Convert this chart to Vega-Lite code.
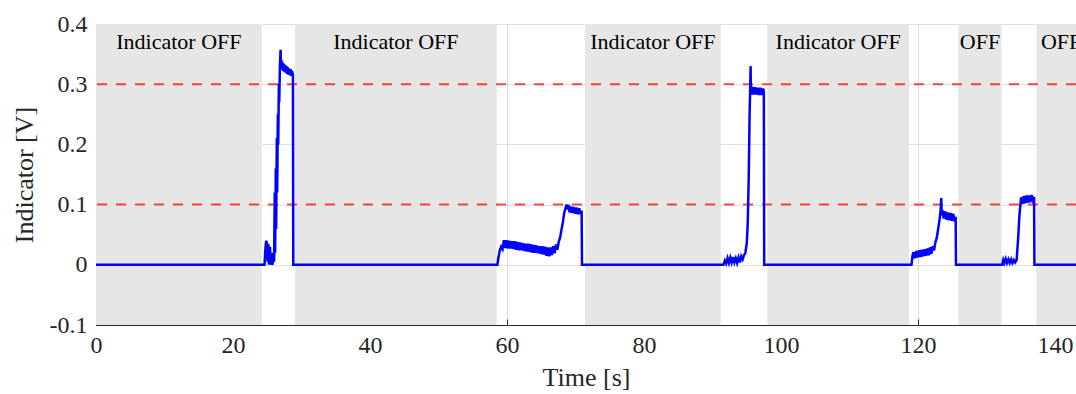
{
  "$schema": "https://vega.github.io/schema/vega-lite/v6.json",
  "width": 980,
  "height": 301,
  "autosize": {"type": "none"},
  "padding": {"left": 96, "top": 24, "right": 0, "bottom": 69},
  "background": "white",
  "config": {
    "view": {"stroke": null},
    "font": "Liberation Serif, serif",
    "axis": {
      "labelFont": "Liberation Serif, serif",
      "titleFont": "Liberation Serif, serif",
      "labelColor": "#262626",
      "titleColor": "#262626",
      "domainColor": "#262626",
      "tickColor": "#262626",
      "gridColor": "#262626",
      "gridOpacity": 0.15,
      "labelFontSize": 24,
      "titleFontSize": 26,
      "titleFontWeight": "normal",
      "tickSize": -6,
      "labelFlush": false,
      "zindex": 1
    }
  },
  "datasets": {
    "regions": [
      {"start": 0, "end": 24.2, "label": "Indicator OFF"},
      {"start": 29.05, "end": 58.5, "label": "Indicator OFF"},
      {"start": 71.4, "end": 91.2, "label": "Indicator OFF"},
      {"start": 98.0, "end": 118.7, "label": "Indicator OFF"},
      {"start": 125.9, "end": 132.2, "label": "OFF"},
      {"start": 137.3, "end": 144.5, "label": "OFF"}
    ],
    "thresholds": [{"level": 0.1}, {"level": 0.3}],
    "signal": [
      {"t":0,"v":0},{"t":24.6,"v":0},{"t":24.75,"v":0.03},{"t":24.85,"v":0.04},{"t":24.95,"v":0.035},{"t":25.05,"v":0.005},{"t":25.15,"v":0.035},{"t":25.25,"v":0.0},{"t":25.4,"v":0.03},{"t":25.5,"v":0.0},{"t":25.65,"v":0.02},{"t":25.75,"v":0.0},{"t":25.9,"v":0.01},{"t":26.0,"v":0.005},{"t":26.1,"v":0.12},{"t":26.15,"v":0.02},{"t":26.25,"v":0.16},{"t":26.3,"v":0.06},{"t":26.4,"v":0.21},{"t":26.45,"v":0.12},{"t":26.55,"v":0.25},{"t":26.6,"v":0.2},{"t":26.7,"v":0.3},{"t":26.75,"v":0.27},{"t":26.85,"v":0.33},{"t":26.95,"v":0.357},{"t":27.0,"v":0.33},{"t":27.05,"v":0.34},{"t":27.1,"v":0.325},{"t":27.2,"v":0.337},{"t":27.3,"v":0.322},{"t":27.4,"v":0.334},{"t":27.5,"v":0.321},{"t":27.6,"v":0.332},{"t":27.7,"v":0.319},{"t":27.8,"v":0.33},{"t":27.9,"v":0.317},{"t":28.0,"v":0.328},{"t":28.1,"v":0.316},{"t":28.2,"v":0.326},{"t":28.3,"v":0.315},{"t":28.4,"v":0.325},{"t":28.5,"v":0.314},{"t":28.6,"v":0.322},{"t":28.75,"v":0.316},{"t":28.8,"v":0},
      {"t":58.6,"v":0},{"t":58.75,"v":0.012},{"t":58.95,"v":0.024},{"t":59.15,"v":0.03},{"t":59.35,"v":0.026},{"t":59.55,"v":0.041},{"t":59.75,"v":0.028},{"t":59.95,"v":0.041},{"t":60.15,"v":0.027},{"t":60.35,"v":0.04},{"t":60.55,"v":0.027},{"t":60.75,"v":0.039},{"t":60.95,"v":0.026},{"t":61.15,"v":0.039},{"t":61.35,"v":0.025},{"t":61.55,"v":0.038},{"t":61.75,"v":0.024},{"t":61.95,"v":0.037},{"t":62.15,"v":0.024},{"t":62.35,"v":0.036},{"t":62.55,"v":0.023},{"t":62.75,"v":0.035},{"t":62.95,"v":0.022},{"t":63.15,"v":0.035},{"t":63.35,"v":0.021},{"t":63.55,"v":0.034},{"t":63.75,"v":0.02},{"t":63.95,"v":0.033},{"t":64.15,"v":0.02},{"t":64.35,"v":0.032},{"t":64.55,"v":0.019},{"t":64.75,"v":0.031},{"t":64.95,"v":0.018},{"t":65.15,"v":0.031},{"t":65.35,"v":0.017},{"t":65.55,"v":0.03},{"t":65.75,"v":0.015},{"t":65.95,"v":0.029},{"t":66.15,"v":0.014},{"t":66.35,"v":0.029},{"t":66.55,"v":0.016},{"t":66.75,"v":0.031},{"t":66.95,"v":0.019},{"t":67.15,"v":0.034},{"t":67.35,"v":0.025},{"t":67.55,"v":0.038},{"t":67.75,"v":0.045},{"t":67.95,"v":0.058},{"t":68.15,"v":0.07},{"t":68.35,"v":0.086},{"t":68.55,"v":0.094},{"t":68.7,"v":0.1},{"t":68.85,"v":0.092},{"t":68.95,"v":0.1},{"t":69.15,"v":0.087},{"t":69.35,"v":0.097},{"t":69.55,"v":0.086},{"t":69.75,"v":0.096},{"t":69.95,"v":0.085},{"t":70.15,"v":0.095},{"t":70.35,"v":0.084},{"t":70.55,"v":0.094},{"t":70.75,"v":0.084},{"t":70.9,"v":0.09},{"t":70.95,"v":0},
      {"t":91.6,"v":0},{"t":91.8,"v":0.007},{"t":92.0,"v":0.002},{"t":92.2,"v":0.011},{"t":92.4,"v":0.003},{"t":92.6,"v":0.012},{"t":92.8,"v":0.004},{"t":93.0,"v":0.013},{"t":93.2,"v":0.004},{"t":93.4,"v":0.011},{"t":93.6,"v":0.003},{"t":93.8,"v":0.012},{"t":94.0,"v":0.004},{"t":94.2,"v":0.014},{"t":94.4,"v":0.009},{"t":94.6,"v":0.016},{"t":94.8,"v":0.02},{"t":95.0,"v":0.035},{"t":95.15,"v":0.07},{"t":95.3,"v":0.15},{"t":95.42,"v":0.25},{"t":95.5,"v":0.29},{"t":95.57,"v":0.33},{"t":95.6,"v":0.29},{"t":95.7,"v":0.283},{"t":95.8,"v":0.296},{"t":96.0,"v":0.283},{"t":96.2,"v":0.295},{"t":96.4,"v":0.283},{"t":96.6,"v":0.294},{"t":96.8,"v":0.282},{"t":97.0,"v":0.294},{"t":97.2,"v":0.282},{"t":97.4,"v":0.293},{"t":97.5,"v":0.287},{"t":97.55,"v":0},
      {"t":119.05,"v":0},{"t":119.2,"v":0.015},{"t":119.35,"v":0.021},{"t":119.55,"v":0.011},{"t":119.75,"v":0.023},{"t":119.95,"v":0.012},{"t":120.15,"v":0.024},{"t":120.35,"v":0.013},{"t":120.55,"v":0.025},{"t":120.75,"v":0.014},{"t":120.95,"v":0.026},{"t":121.15,"v":0.015},{"t":121.35,"v":0.027},{"t":121.55,"v":0.016},{"t":121.75,"v":0.029},{"t":121.95,"v":0.018},{"t":122.15,"v":0.031},{"t":122.35,"v":0.024},{"t":122.55,"v":0.038},{"t":122.75,"v":0.045},{"t":122.95,"v":0.06},{"t":123.15,"v":0.075},{"t":123.3,"v":0.09},{"t":123.4,"v":0.111},{"t":123.45,"v":0.082},{"t":123.55,"v":0.091},{"t":123.75,"v":0.077},{"t":123.95,"v":0.089},{"t":124.15,"v":0.075},{"t":124.35,"v":0.087},{"t":124.55,"v":0.074},{"t":124.75,"v":0.086},{"t":124.95,"v":0.073},{"t":125.15,"v":0.085},{"t":125.35,"v":0.072},{"t":125.5,"v":0.08},{"t":125.55,"v":0},
      {"t":132.3,"v":0},{"t":132.45,"v":0.008},{"t":132.6,"v":0.003},{"t":132.8,"v":0.01},{"t":133.0,"v":0.003},{"t":133.2,"v":0.009},{"t":133.4,"v":0.003},{"t":133.6,"v":0.009},{"t":133.8,"v":0.003},{"t":134.0,"v":0.008},{"t":134.2,"v":0.004},{"t":134.4,"v":0.008},{"t":134.6,"v":0.04},{"t":134.8,"v":0.08},{"t":134.95,"v":0.1},{"t":135.05,"v":0.112},{"t":135.2,"v":0.101},{"t":135.4,"v":0.114},{"t":135.6,"v":0.102},{"t":135.8,"v":0.115},{"t":136.0,"v":0.103},{"t":136.2,"v":0.115},{"t":136.4,"v":0.104},{"t":136.6,"v":0.116},{"t":136.8,"v":0.107},{"t":136.95,"v":0.113},{"t":137.0,"v":0},{"t":144,"v":0}
    ]
  },
  "layer": [
    {
      "data": {"name": "regions"},
      "mark": {"type": "rect", "color": "#e6e6e6", "clip": true},
      "encoding": {
        "x": {"field": "start", "type": "quantitative", "scale": {"domain": [0, 143.07], "nice": false, "zero": false},
          "axis": {"title": "Time [s]", "values": [0, 20, 40, 60, 80, 100, 120, 140], "labelPadding": 14, "titlePadding": 7, "grid": true}},
        "x2": {"field": "end"}
      }
    },
    {
      "data": {"name": "thresholds"},
      "mark": {"type": "rule", "color": "#ff0000", "opacity": 0.72, "strokeWidth": 2, "strokeDash": [10, 9]},
      "encoding": {
        "y": {"field": "level", "type": "quantitative", "scale": {"domain": [-0.1, 0.4], "nice": false, "zero": false},
          "axis": {"title": "Indicator [V]", "values": [-0.1, 0, 0.1, 0.2, 0.3, 0.4], "labelPadding": 15, "titlePadding": 12, "grid": true,
            "labelExpr": "datum.value < -0.05 ? '-0.1' : (abs(datum.value) < 0.01 ? '0' : format(datum.value, '.1f'))"}}
      }
    },
    {
      "data": {"name": "signal"},
      "mark": {"type": "line", "color": "#0000ff", "strokeWidth": 2.5, "clip": true},
      "encoding": {
        "x": {"field": "t", "type": "quantitative"},
        "y": {"field": "v", "type": "quantitative"}
      }
    },
    {
      "data": {"name": "regions"},
      "transform": [{"calculate": "(datum.start + datum.end) / 2", "as": "mid"}],
      "mark": {"type": "text", "fontSize": 22, "font": "Liberation Serif, serif", "color": "#000000", "baseline": "middle", "align": "center"},
      "encoding": {
        "x": {"field": "mid", "type": "quantitative"},
        "y": {"datum": 0.37},
        "text": {"field": "label"}
      }
    },
    {
      "mark": {"type": "rule", "color": "#262626", "strokeWidth": 1},
      "encoding": {"y": {"datum": 0.4}}
    }
  ]
}
